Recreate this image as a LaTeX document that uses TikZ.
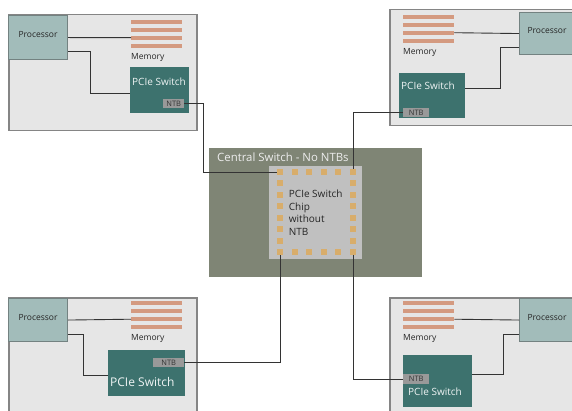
\documentclass[tikz,border=0pt]{standalone}
\usepackage{fontspec}
\setmainfont{Open Sans}
\usetikzlibrary{positioning}

\definecolor{hostfill}{HTML}{E6E6E6}
\definecolor{hostline}{HTML}{858585}
\definecolor{procfill}{HTML}{A2BCBA}
\definecolor{procline}{HTML}{738281}
\definecolor{memfill}{HTML}{D49A80}
\definecolor{swfill}{HTML}{3D726E}
\definecolor{ntbfill}{HTML}{999999}
\definecolor{centralfill}{HTML}{7F8575}
\definecolor{chipfill}{HTML}{C0C0C0}
\definecolor{padfill}{HTML}{D8AD6B}
\definecolor{wire}{HTML}{333333}

\begin{document}
\begin{tikzpicture}[x=1pt,y=-1pt]
    \tikzstyle{host}=[draw=hostline,fill=hostfill,line width=1.5pt,anchor=north west,inner sep=0pt]
    \tikzstyle{proc}=[draw=procline,fill=procfill,line width=1.1pt,anchor=north west,inner sep=0pt]
    \tikzstyle{proclabel}=[font=\fontsize{8.5}{10}\selectfont,text=black!85,yshift=3pt]
    \tikzstyle{membar}=[fill=memfill,anchor=north west,minimum width=51pt,minimum height=4pt,inner sep=0pt]
    \tikzstyle{memlabel}=[font=\fontsize{8.5}{10}\selectfont,text=black!85,inner sep=0pt]
    \tikzstyle{switch}=[fill=swfill,anchor=north west,inner sep=0pt]
    \tikzstyle{swlabel}=[anchor=west,inner sep=2pt,text=white!92!swfill]
    \tikzstyle{ntb}=[fill=ntbfill,anchor=north west,inner sep=0pt,font=\fontsize{7.5}{8}\selectfont,text=black!80]
    \tikzstyle{central}=[fill=centralfill,anchor=north west,inner sep=0pt]
    \tikzstyle{chip}=[fill=chipfill,anchor=north west,inner sep=0pt,align=left,
        font=\fontsize{10}{12.5}\selectfont,text=black!85]
    \tikzstyle{pad}=[fill=padfill,minimum size=6pt,inner sep=0pt]
    \tikzstyle{link}=[draw=wire,line width=0.9pt]

    \useasboundingbox (0,0) rectangle (572,411);
    \clip (0,0) rectangle (572,411);

    \node[host,minimum width=188pt,minimum height=116pt] (host1) at (8,14) {};
    \node[host,minimum width=190pt,minimum height=116pt] (host2) at (389,9) {};
    \node[host,minimum width=188pt,minimum height=130pt] (host3) at (8,297) {};
    \node[host,minimum width=190pt,minimum height=130pt] (host4) at (389,297) {};

    \node[proc,minimum width=59pt,minimum height=44pt,label={[proclabel]center:Processor}] (proc1) at (8,15) {};
    \node[proc,minimum width=55pt,minimum height=42pt,label={[proclabel]center:Processor}] (proc2) at (519,12) {};
    \node[proc,minimum width=59pt,minimum height=43pt,label={[proclabel]center:Processor}] (proc3) at (8,298) {};
    \node[proc,minimum width=55pt,minimum height=43pt,label={[proclabel]center:Processor}] (proc4) at (519,298) {};

    \foreach \k in {1,...,4} {
        \node[membar] (mem1-\k) at (131,{11.5+8*\k}) {};
        \node[membar] (mem2-\k) at (403,{6.5+8*\k}) {};
        \node[membar] (mem3-\k) at (131,{293+8*\k}) {};
        \node[membar] (mem4-\k) at (403,{293+8*\k}) {};
    }
    \node[memlabel,below right=5pt and 0pt of mem1-4.south west] (memtext1) {Memory};
    \node[memlabel,below right=5pt and 0pt of mem2-4.south west] (memtext2) {Memory};
    \node[memlabel,below right=5pt and 0pt of mem3-4.south west] (memtext3) {Memory};
    \node[memlabel,below right=5pt and 0pt of mem4-4.south west] (memtext4) {Memory};

    \node[switch,minimum width=59pt,minimum height=46pt,
        label={[swlabel,yshift=8pt,font=\fontsize{10}{12}\selectfont]west:PCIe Switch}] (sw1) at (130,67) {};
    \node[switch,minimum width=66pt,minimum height=45pt,
        label={[swlabel,yshift=9.5pt,font=\fontsize{10}{12}\selectfont]west:PCIe Switch}] (sw2) at (399,73) {};
    \node[switch,minimum width=77pt,minimum height=46pt,
        label={[swlabel,yshift=-9pt,font=\fontsize{12}{14}\selectfont]west:PCIe Switch}] (sw3) at (108,350) {};
    \node[switch,minimum width=69pt,minimum height=52pt,
        label={[swlabel,yshift=-11pt,xshift=3pt,font=\fontsize{10}{12}\selectfont]west:PCIe Switch}] (sw4) at (403,355) {};

    \node[ntb,minimum width=21pt,minimum height=9pt] (ntb1) at (163,99) {NTB};
    \node[ntb,minimum width=26pt,minimum height=9pt] (ntb2) at (403,108) {NTB};
    \node[ntb,minimum width=31pt,minimum height=9pt] (ntb3) at (153,358) {NTB};
    \node[ntb,minimum width=26pt,minimum height=10pt] (ntb4) at (403,374) {NTB};

    \node[central,minimum width=213pt,minimum height=129pt,
        label={[anchor=north west,inner sep=0pt,xshift=8pt,yshift=-4.5pt,
        font=\fontsize{11.4}{13}\selectfont,text=white!93!black]north west:Central Switch - No NTBs}] (central) at (209,148) {};
    \node[chip,minimum width=93pt,minimum height=93pt] (chip) at (269,166) {PCIe Switch\\Chip\\without\\NTB};

    \foreach \i in {0,...,5} {
        \node[pad] (padT\i) at ({280+14.6*\i},172) {};
        \node[pad] (padB\i) at ({280+14.6*\i},252) {};
    }
    \foreach \j in {1,...,6} {
        \node[pad] (padL\j) at (280,{172+11.43*\j}) {};
        \node[pad] (padR\j) at (353,{172+11.43*\j}) {};
    }

    \draw[link] (proc1.east) -- (mem1-3.west);
    \draw[link] (mem2-3.east) -- (proc2.west);
    \draw[link] (proc3.east) -- (mem3-3.west);
    \draw[link] (mem4-3.east) -- (proc4.west);

    \draw[link] ([yshift=-14pt]proc1.east) -- ++(22,0) |- ([yshift=-3pt]sw1.west);
    \draw[link] ([yshift=-14pt]proc2.west) -- ++(-19,0) |- ([yshift=7.5pt]sw2.east);
    \draw[link] ([yshift=-14.5pt]proc3.east) -- ++(15,0) |- ([yshift=-2pt]sw3.west);
    \draw[link] ([yshift=-14.5pt]proc4.west) -- ++(-16,0) |- ([yshift=7pt]sw4.east);

    \draw[link] (ntb1.east) -- ++(19,0) |- (padT0.west);
    \draw[link] (ntb2.west) -| (padT5.north);
    \draw[link] (ntb3.east) -| (padB0.south);
    \draw[link] (ntb4.west) -| (padB5.south);
\end{tikzpicture}
\end{document}
